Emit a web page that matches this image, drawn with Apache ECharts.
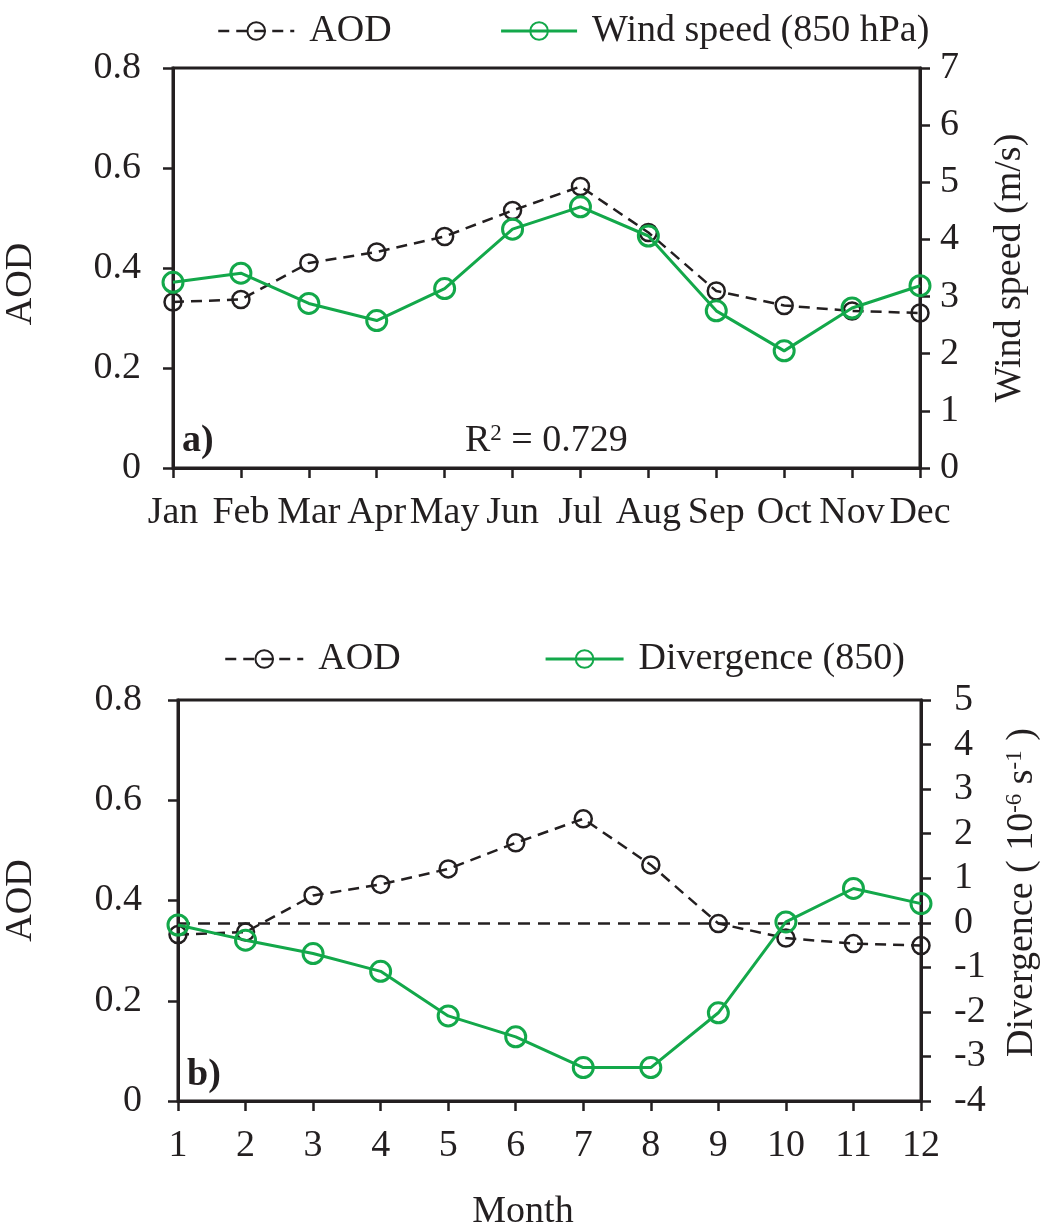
<!DOCTYPE html>
<html>
<head>
<meta charset="utf-8">
<title>AOD, wind speed and divergence by month</title>
<script src="https://cdn.jsdelivr.net/npm/echarts@6/dist/echarts.min.js"></script>
<style>
  html, body { margin: 0; padding: 0; background: #fff; }
  #chart { width: 1044px; height: 1228px; }
</style>
</head>
<body>
<div id="chart"></div>
<script>
// Monthly climatology values
const monthNames = ['Jan', 'Feb', 'Mar', 'Apr', 'May', 'Jun', 'Jul', 'Aug', 'Sep', 'Oct', 'Nov', 'Dec'];
const monthNumbers = ['1', '2', '3', '4', '5', '6', '7', '8', '9', '10', '11', '12'];
const aod = [0.332, 0.337, 0.410, 0.432, 0.463, 0.515, 0.563, 0.471, 0.354, 0.325, 0.314, 0.310];
const windSpeed850 = [3.25, 3.41, 2.88, 2.58, 3.14, 4.18, 4.57, 4.06, 2.75, 2.05, 2.80, 3.19];
const divergence850 = [-0.05, -0.39, -0.69, -1.09, -2.09, -2.56, -3.25, -3.25, -2.02, 0.02, 0.77, 0.43];
const rSquared = '0.729';

const FONT = '"Liberation Serif", "DejaVu Serif", serif';
const FS = 38;
const INK = '#231f20';
const GREEN = '#13a84a';

const axisLine = { show: true, lineStyle: { color: INK, width: 3 } };
const axisTick = { show: true, inside: false, length: 10, lineStyle: { color: INK, width: 2.5 } };
const labelStyle = { color: INK, fontFamily: FONT, fontSize: FS };
const nameStyle = { color: INK, fontFamily: FONT, fontSize: FS };

function aodLabel(v) { return v === 0 ? '0' : v.toFixed(1); }

const aodSeriesStyle = {
  type: 'line',
  symbol: 'circle',
  symbolSize: 17,
  itemStyle: { color: 'transparent', borderColor: INK, borderWidth: 2.5 },
  lineStyle: { color: INK, width: 2.5, type: [11, 7] },
  z: 3
};
const greenSeriesStyle = {
  type: 'line',
  symbol: 'circle',
  symbolSize: 20,
  itemStyle: { color: 'transparent', borderColor: GREEN, borderWidth: 3 },
  lineStyle: { color: GREEN, width: 3 },
  z: 4
};

const legendText = { color: INK, fontFamily: FONT, fontSize: FS, padding: [0, 0, 0, 10] };
const legendAodLine = { color: INK, width: 2.5, type: [11, 7] };
const legendGreenLine = { color: GREEN, width: 3, type: 'solid' };

const chart = echarts.init(document.getElementById('chart'), null, { renderer: 'canvas' });

chart.setOption({
  animation: false,
  backgroundColor: '#ffffff',
  textStyle: { fontFamily: FONT },
  legend: [
    {
      data: [
        { name: 'AOD', lineStyle: legendAodLine },
        { name: 'Wind speed (850 hPa)', lineStyle: legendGreenLine }
      ],
      left: 217, top: 12, padding: 0,
      itemWidth: 76, itemHeight: 22, itemGap: 108,
      textStyle: legendText
    },
    {
      data: [
        { name: 'AOD ', lineStyle: legendAodLine },
        { name: 'Divergence (850)', lineStyle: legendGreenLine }
      ],
      left: 224, top: 640, padding: 0,
      itemWidth: 78, itemHeight: 22, itemGap: 134,
      textStyle: legendText
    }
  ],
  grid: [
    { left: 173, right: 124, top: 68, height: 400, show: true, borderColor: INK, borderWidth: 3,
      containLabel: false, outerBoundsMode: 'none' },
    { left: 178, right: 123, top: 700, height: 401, show: true, borderColor: INK, borderWidth: 3,
      containLabel: false, outerBoundsMode: 'none' }
  ],
  xAxis: [
    {
      gridIndex: 0, type: 'category', data: monthNames, boundaryGap: false,
      axisLine, axisTick,
      axisLabel: Object.assign({}, labelStyle, { interval: 0, margin: 26, hideOverlap: false }),
      splitLine: { show: false }
    },
    {
      gridIndex: 1, type: 'category', data: monthNumbers, boundaryGap: false,
      axisLine, axisTick,
      axisLabel: Object.assign({}, labelStyle, { interval: 0, margin: 26 }),
      splitLine: { show: false },
      name: 'Month', nameLocation: 'middle', nameGap: 92,
      nameTextStyle: Object.assign({}, nameStyle, { padding: [0, 53, 0, 0] })
    }
  ],
  yAxis: [
    {
      gridIndex: 0, type: 'value', min: 0, max: 0.8, interval: 0.2, position: 'left',
      axisLine, axisTick,
      axisLabel: Object.assign({}, labelStyle, { margin: 32, formatter: aodLabel }),
      splitLine: { show: false },
      name: 'AOD', nameLocation: 'middle', nameGap: 133,
      nameTextStyle: Object.assign({}, nameStyle, { padding: [0, 32, 0, 0] })
    },
    {
      gridIndex: 0, type: 'value', min: 0, max: 7, interval: 1, position: 'right',
      axisLine, axisTick,
      axisLabel: Object.assign({}, labelStyle, { margin: 20 }),
      splitLine: { show: false },
      name: 'Wind speed (m/s)', nameLocation: 'middle', nameGap: 71,
      nameTextStyle: nameStyle
    },
    {
      gridIndex: 1, type: 'value', min: 0, max: 0.8, interval: 0.2, position: 'left',
      axisLine, axisTick,
      axisLabel: Object.assign({}, labelStyle, { margin: 36, formatter: aodLabel }),
      splitLine: { show: false },
      name: 'AOD', nameLocation: 'middle', nameGap: 138,
      nameTextStyle: nameStyle
    },
    {
      gridIndex: 1, type: 'value', min: -4, max: 5, interval: 1, position: 'right',
      axisLine, axisTick,
      axisLabel: Object.assign({}, labelStyle, { margin: 33 }),
      splitLine: { show: false },
      name: 'Divergence ( 10{sup|-6} s{sup|-1} )', nameLocation: 'middle', nameGap: 82,
      nameTextStyle: Object.assign({}, nameStyle, {
        padding: [0, 0, 0, 16],
        rich: {
          sup: { fontFamily: FONT, fontSize: 23, color: INK, verticalAlign: 'top', lineHeight: 22 }
        }
      })
    }
  ],
  series: [
    Object.assign({}, aodSeriesStyle, { name: 'AOD', xAxisIndex: 0, yAxisIndex: 0, data: aod }),
    Object.assign({}, greenSeriesStyle, { name: 'Wind speed (850 hPa)', xAxisIndex: 0, yAxisIndex: 1, data: windSpeed850 }),
    Object.assign({}, aodSeriesStyle, { name: 'AOD ', xAxisIndex: 1, yAxisIndex: 2, data: aod }),
    Object.assign({}, greenSeriesStyle, {
      name: 'Divergence (850)', xAxisIndex: 1, yAxisIndex: 3, data: divergence850,
      markLine: {
        silent: true,
        symbol: 'none',
        label: { show: false },
        lineStyle: { color: INK, width: 2.5, type: [12, 8] },
        data: [{ yAxis: 0 }],
        z: 2
      }
    })
  ],
  graphic: [
    {
      type: 'text', left: 182, top: 422, z: 10,
      style: { text: 'a)', fill: INK, font: 'bold 38px ' + FONT }
    },
    {
      type: 'text', left: 187, top: 1056, z: 10,
      style: { text: 'b)', fill: INK, font: 'bold 38px ' + FONT }
    },
    {
      type: 'text', left: 465, top: 422, z: 10,
      style: {
        text: 'R{sup|2} = ' + rSquared,
        fill: INK, font: '38px ' + FONT,
        rich: { sup: { fontSize: 23, fontFamily: FONT, fill: INK, verticalAlign: 'top' } }
      }
    }
  ]
});
</script>
</body>
</html>
